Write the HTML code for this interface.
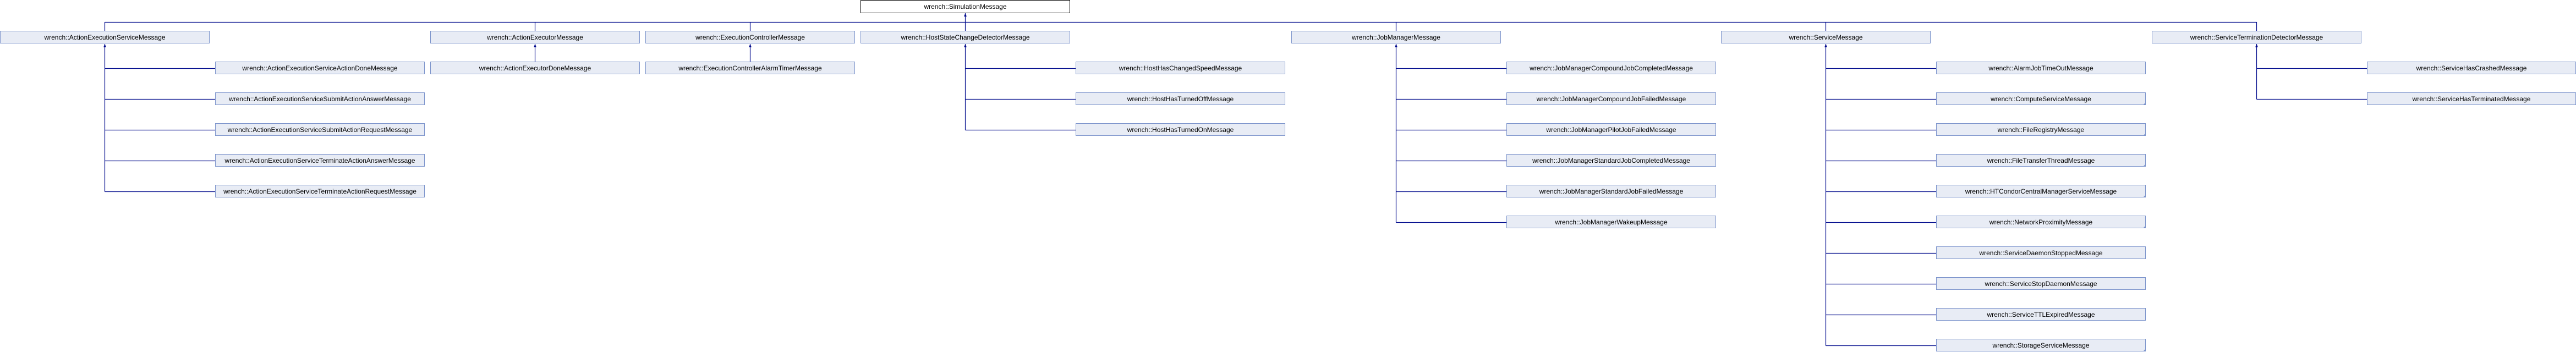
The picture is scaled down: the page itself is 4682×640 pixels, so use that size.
<!DOCTYPE html>
<html><head><meta charset="utf-8"><style>
html,body{margin:0;padding:0;background:#fff;width:4682px;height:640px;overflow:hidden}
svg{display:block}
text{font-family:"Liberation Sans",sans-serif;font-size:12px;fill:#000;text-anchor:middle}
.b{fill:#e8ecf5;stroke:#7b93cb;stroke-width:1}
.l{stroke:#000a8c;stroke-width:1.2;fill:none}
.a{fill:#000a8c}
.t{fill:#7b93cb}
</style></head><body>
<svg width="4682" height="640" viewBox="0 0 4682 640" xmlns="http://www.w3.org/2000/svg">
<!-- connectors -->
<path class="l" d="M1754.5 24V56M190.5 40.5H4101.5M190.5 40V56M972.5 40V56M1363.5 40V56M2537.5 40V56M3318.5 40V56M4101.5 40V56"/>
<path class="l" d="M190.5 80V348.5M190.5 124.5H391M190.5 180.5H391M190.5 236.5H391M190.5 292.5H391M190.5 348.5H391"/>
<path class="l" d="M972.5 80V112M1363.5 80V112"/>
<path class="l" d="M1754.5 80V236.5M1754.5 124.5H1955M1754.5 180.5H1955M1754.5 236.5H1955"/>
<path class="l" d="M2537.5 80V404.5M2537.5 124.5H2738M2537.5 180.5H2738M2537.5 236.5H2738M2537.5 292.5H2738M2537.5 348.5H2738M2537.5 404.5H2738"/>
<path class="l" d="M3318.5 80V628.5M3318.5 124.5H3519M3318.5 180.5H3519M3318.5 236.5H3519M3318.5 292.5H3519M3318.5 348.5H3519M3318.5 404.5H3519M3318.5 460.5H3519M3318.5 516.5H3519M3318.5 572.5H3519M3318.5 628.5H3519"/>
<path class="l" d="M4101.5 80V180.5M4101.5 124.5H4302M4101.5 180.5H4302"/>
<!-- arrowheads -->
<path class="a" d="M1752 30L1754.5 24L1757 30Z"/>
<path class="a" d="M188 86L190.5 80L193 86Z"/>
<path class="a" d="M970 86L972.5 80L975 86Z"/>
<path class="a" d="M1361 86L1363.5 80L1366 86Z"/>
<path class="a" d="M1752 86L1754.5 80L1757 86Z"/>
<path class="a" d="M2535 86L2537.5 80L2540 86Z"/>
<path class="a" d="M3316 86L3318.5 80L3321 86Z"/>
<path class="a" d="M4099 86L4101.5 80L4104 86Z"/>
<!-- root -->
<rect x="1564.5" y="0.5" width="380" height="23" fill="#fff" stroke="#000"/>
<text x="1754.5" y="16">wrench::SimulationMessage</text>
<!-- row 1 -->
<rect class="b" x="0.5" y="56.5" width="380" height="22"/><text x="190.5" y="72">wrench::ActionExecutionServiceMessage</text>
<rect class="b" x="782.5" y="56.5" width="380" height="22"/><text x="972.5" y="72">wrench::ActionExecutorMessage</text>
<rect class="b" x="1173.5" y="56.5" width="380" height="22"/><text x="1363.5" y="72">wrench::ExecutionControllerMessage</text>
<rect class="b" x="1564.5" y="56.5" width="380" height="22"/><text x="1754.5" y="72">wrench::HostStateChangeDetectorMessage</text>
<rect class="b" x="2347.5" y="56.5" width="380" height="22"/><text x="2537.5" y="72">wrench::JobManagerMessage</text>
<rect class="b" x="3128.5" y="56.5" width="380" height="22"/><text x="3318.5" y="72">wrench::ServiceMessage</text>
<rect class="b" x="3911.5" y="56.5" width="380" height="22"/><text x="4101.5" y="72">wrench::ServiceTerminationDetectorMessage</text>
<!-- AESM children -->
<rect class="b" x="391.5" y="112.5" width="380" height="22"/><text x="581.5" y="128">wrench::ActionExecutionServiceActionDoneMessage</text>
<rect class="b" x="391.5" y="168.5" width="380" height="22"/><text x="581.5" y="184">wrench::ActionExecutionServiceSubmitActionAnswerMessage</text>
<rect class="b" x="391.5" y="224.5" width="380" height="22"/><text x="581.5" y="240">wrench::ActionExecutionServiceSubmitActionRequestMessage</text>
<rect class="b" x="391.5" y="280.5" width="380" height="22"/><text x="581.5" y="296">wrench::ActionExecutionServiceTerminateActionAnswerMessage</text>
<rect class="b" x="391.5" y="336.5" width="380" height="22"/><text x="581.5" y="352">wrench::ActionExecutionServiceTerminateActionRequestMessage</text>
<!-- single children -->
<rect class="b" x="782.5" y="112.5" width="380" height="22"/><text x="972.5" y="128">wrench::ActionExecutorDoneMessage</text>
<rect class="b" x="1173.5" y="112.5" width="380" height="22"/><text x="1363.5" y="128">wrench::ExecutionControllerAlarmTimerMessage</text>
<!-- host children -->
<rect class="b" x="1955.5" y="112.5" width="380" height="22"/><text x="2145.5" y="128">wrench::HostHasChangedSpeedMessage</text>
<rect class="b" x="1955.5" y="168.5" width="380" height="22"/><text x="2145.5" y="184">wrench::HostHasTurnedOffMessage</text>
<rect class="b" x="1955.5" y="224.5" width="380" height="22"/><text x="2145.5" y="240">wrench::HostHasTurnedOnMessage</text>
<!-- job manager children -->
<rect class="b" x="2738.5" y="112.5" width="380" height="22"/><text x="2928.5" y="128">wrench::JobManagerCompoundJobCompletedMessage</text>
<rect class="b" x="2738.5" y="168.5" width="380" height="22"/><text x="2928.5" y="184">wrench::JobManagerCompoundJobFailedMessage</text>
<rect class="b" x="2738.5" y="224.5" width="380" height="22"/><text x="2928.5" y="240">wrench::JobManagerPilotJobFailedMessage</text>
<rect class="b" x="2738.5" y="280.5" width="380" height="22"/><text x="2928.5" y="296">wrench::JobManagerStandardJobCompletedMessage</text>
<rect class="b" x="2738.5" y="336.5" width="380" height="22"/><text x="2928.5" y="352">wrench::JobManagerStandardJobFailedMessage</text>
<rect class="b" x="2738.5" y="392.5" width="380" height="22"/><text x="2928.5" y="408">wrench::JobManagerWakeupMessage</text>
<!-- service children -->
<rect class="b" x="3519.5" y="112.5" width="380" height="22"/><text x="3709.5" y="128">wrench::AlarmJobTimeOutMessage</text>
<rect class="b" x="3519.5" y="168.5" width="380" height="22"/><text x="3709.5" y="184">wrench::ComputeServiceMessage</text>
<rect class="b" x="3519.5" y="224.5" width="380" height="22"/><text x="3709.5" y="240">wrench::FileRegistryMessage</text>
<rect class="b" x="3519.5" y="280.5" width="380" height="22"/><text x="3709.5" y="296">wrench::FileTransferThreadMessage</text>
<rect class="b" x="3519.5" y="336.5" width="380" height="22"/><text x="3709.5" y="352">wrench::HTCondorCentralManagerServiceMessage</text>
<rect class="b" x="3519.5" y="392.5" width="380" height="22"/><text x="3709.5" y="408">wrench::NetworkProximityMessage</text>
<rect class="b" x="3519.5" y="448.5" width="380" height="22"/><text x="3709.5" y="464">wrench::ServiceDaemonStoppedMessage</text>
<rect class="b" x="3519.5" y="504.5" width="380" height="22"/><text x="3709.5" y="520">wrench::ServiceStopDaemonMessage</text>
<rect class="b" x="3519.5" y="560.5" width="380" height="22"/><text x="3709.5" y="576">wrench::ServiceTTLExpiredMessage</text>
<rect class="b" x="3519.5" y="616.5" width="380" height="22"/><text x="3709.5" y="632">wrench::StorageServiceMessage</text>
<path class="t" d="M3900 186L3900 191L3895 191Z M3900 242L3900 247L3895 247Z M3900 298L3900 303L3895 303Z M3900 354L3900 359L3895 359Z M3900 410L3900 415L3895 415Z M3900 634L3900 639L3895 639Z"/>
<!-- STD children -->
<rect class="b" x="4302.5" y="112.5" width="379" height="22"/><text x="4492" y="128">wrench::ServiceHasCrashedMessage</text>
<rect class="b" x="4302.5" y="168.5" width="379" height="22"/><text x="4492" y="184">wrench::ServiceHasTerminatedMessage</text>
</svg>
</body></html>
